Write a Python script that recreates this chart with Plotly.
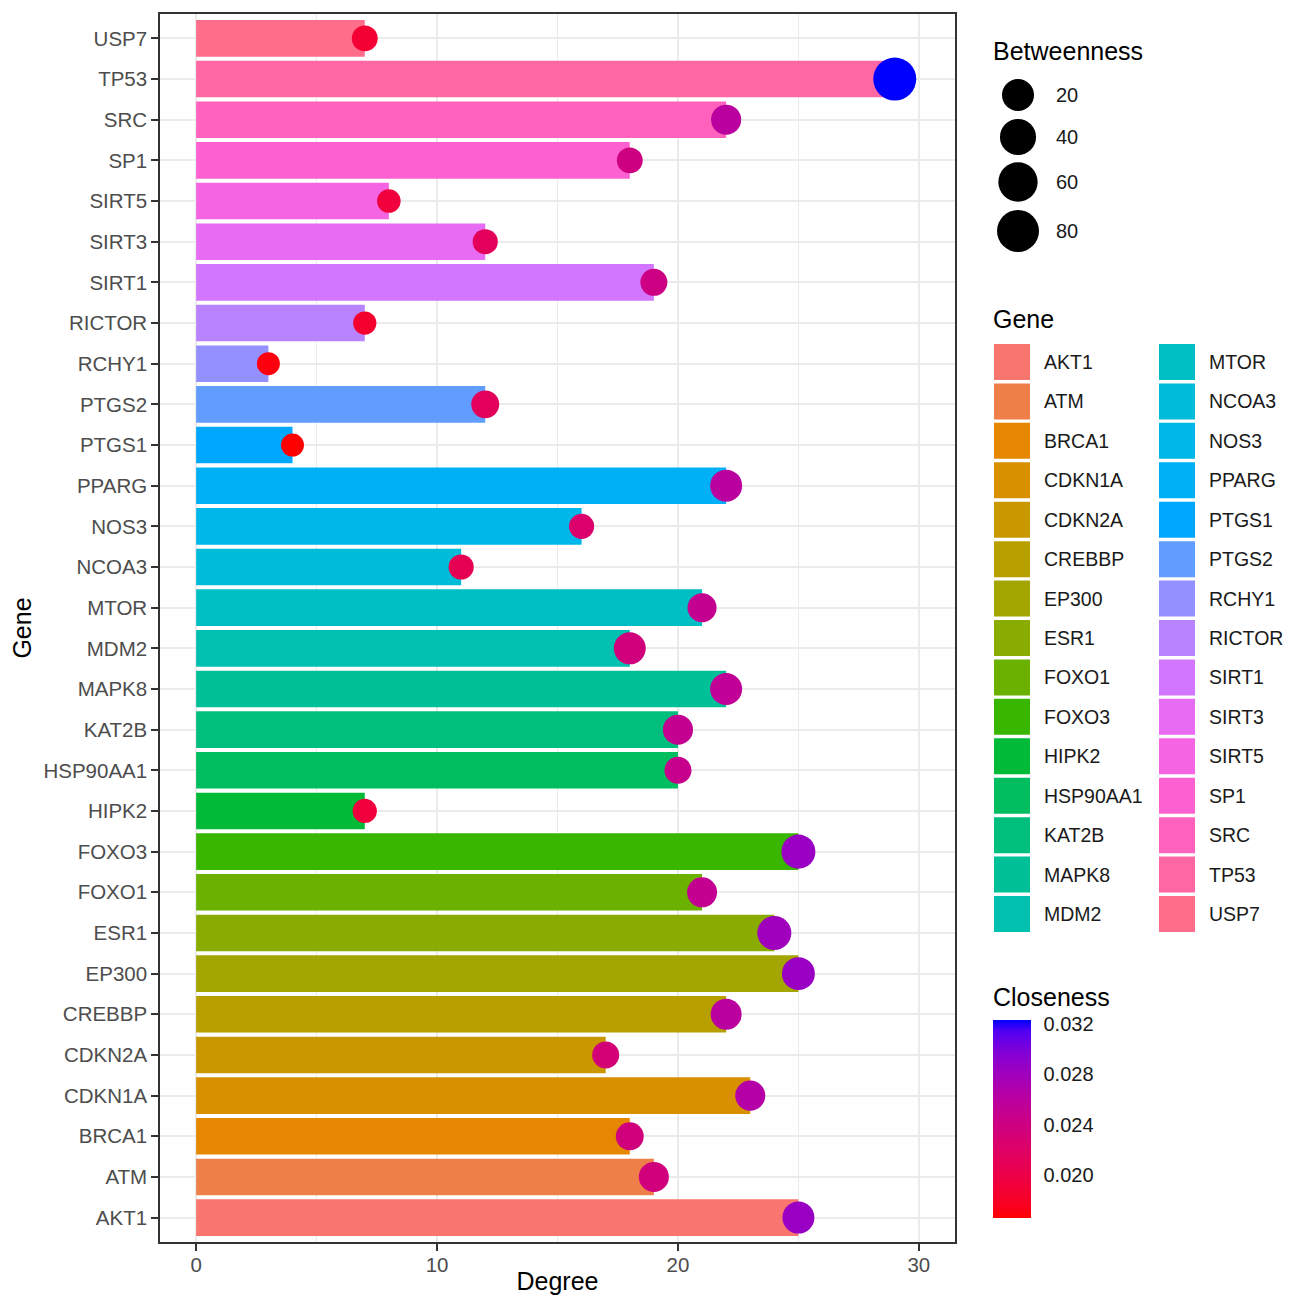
import numpy as np
import plotly.graph_objects as go

# ---------------- data ----------------
genes = ["AKT1", "ATM", "BRCA1", "CDKN1A", "CDKN2A", "CREBBP", "EP300", "ESR1",
         "FOXO1", "FOXO3", "HIPK2", "HSP90AA1", "KAT2B", "MAPK8", "MDM2", "MTOR",
         "NCOA3", "NOS3", "PPARG", "PTGS1", "PTGS2", "RCHY1", "RICTOR", "SIRT1",
         "SIRT3", "SIRT5", "SP1", "SRC", "TP53", "USP7"]
degree = [25, 19, 18, 23, 17, 22, 25, 24, 21, 25, 7, 20, 20, 22, 18, 21,
          11, 16, 22, 4, 12, 3, 7, 19, 12, 8, 18, 22, 29, 7]
betweenness = [20, 13, 7, 13, 5, 16, 24, 29, 13, 29, 1, 5, 13, 20, 20, 10,
               2, 2, 20, 0.2, 7, 0.2, 0.3, 5, 2, 0.5, 3, 13, 88, 3]
closeness = [0.0284, 0.0237, 0.0237, 0.0265, 0.0232, 0.0260, 0.0284, 0.0280,
             0.0250, 0.0284, 0.0193, 0.0248, 0.0250, 0.0254, 0.0237, 0.0250,
             0.0208, 0.0224, 0.0260, 0.0166, 0.0213, 0.0170, 0.0185, 0.0241,
             0.0213, 0.0193, 0.0240, 0.0260, 0.0323, 0.0188]
size_breaks = [20, 40, 60, 80]
closeness_ticks = [0.020, 0.024, 0.028, 0.032]
x_ticks = [0, 10, 20, 30]

# ---------------- colour helpers ----------------
XN, YN, ZN = 95.047, 100.0, 108.883

def _gam(t):
    return 12.92 * t if t <= 0.0031308 else 1.055 * t ** (1 / 2.4) - 0.055

def _ungam(t):
    return t / 12.92 if t <= 0.04045 else ((t + 0.055) / 1.055) ** 2.4

def xyz_to_hex(X, Y, Z):
    r = 3.240479 * X - 1.537150 * Y - 0.498535 * Z
    g = -0.969256 * X + 1.875992 * Y + 0.041556 * Z
    b = 0.055648 * X - 0.204043 * Y + 1.057311 * Z
    rgb = [min(1.0, max(0.0, _gam(t))) for t in (r, g, b)]
    return "#%02X%02X%02X" % tuple(int(round(255 * t)) for t in rgb)

def hcl_hex(h, c=100, l=65):
    un = 4 * XN / (XN + 15 * YN + 3 * ZN)
    vn = 9 * YN / (XN + 15 * YN + 3 * ZN)
    hr = np.radians(h)
    U, V = c * np.cos(hr), c * np.sin(hr)
    Y = YN * ((l + 16) / 116) ** 3
    u = U / (13 * l) + un
    v = V / (13 * l) + vn
    X = 9.0 * Y * u / (4 * v)
    Z = -X / 3 - 5 * Y + 3 * Y / v
    return xyz_to_hex(X / 100, Y / 100, Z / 100)

def hex_to_lab(hx):
    r, g, b = [_ungam(int(hx[i:i + 2], 16) / 255) for i in (1, 3, 5)]
    X = (0.412453 * r + 0.357580 * g + 0.180423 * b) / (XN / 100)
    Y = (0.212671 * r + 0.715160 * g + 0.072169 * b)
    Z = (0.019334 * r + 0.119193 * g + 0.950227 * b) / (ZN / 100)
    f = lambda t: t ** (1 / 3) if t > 0.008856 else 7.787 * t + 16 / 116
    fx, fy, fz = f(X), f(Y), f(Z)
    return 116 * fy - 16, 500 * (fx - fy), 200 * (fy - fz)

def lab_to_hex(L, a, b):
    fy = (L + 16) / 116
    fx = fy + a / 500
    fz = fy - b / 200
    finv = lambda t: t ** 3 if t ** 3 > 0.008856 else (t - 16 / 116) / 7.787
    return xyz_to_hex(finv(fx) * XN / 100, finv(fy), finv(fz) * ZN / 100)

n = len(genes)
hues = [15 + 360 / n * i for i in range(n)]
gene_colors = [hcl_hex(h) for h in hues]

lab_lo, lab_hi = hex_to_lab("#FF0000"), hex_to_lab("#0000FF")
colorscale = []
for t in np.linspace(0, 1, 21):
    L = lab_lo[0] + (lab_hi[0] - lab_lo[0]) * t
    A = lab_lo[1] + (lab_hi[1] - lab_lo[1]) * t
    B = lab_lo[2] + (lab_hi[2] - lab_lo[2]) * t
    colorscale.append([float(t), lab_to_hex(L, A, B)])

def size_scale(v):
    return 22 + 10 * np.sqrt(np.asarray(v, dtype=float) / 20)

# ---------------- layout geometry (page has an 8px body margin) ----------------
OFF = 8
def P(v):  # reference-pixel position -> figure pixel position
    return v - OFF

FONT = "Liberation Sans, Arial, sans-serif"
W, H = 1293 - 2 * OFF, 1303 - 2 * OFF
ML, MT = P(160), P(14)
MB = H - P(1242)
MR = 0
PW = W - ML - MR
PH = H - MT - MB
main_right = P(955)

fig = go.Figure()

fig.add_trace(go.Bar(
    x=degree, y=genes, orientation="h", width=0.9,
    marker=dict(color=gene_colors, line=dict(width=0)),
    showlegend=False, xaxis="x", yaxis="y",
))

fig.add_trace(go.Scatter(
    x=degree, y=genes, mode="markers",
    marker=dict(size=size_scale(betweenness), color=closeness, coloraxis="coloraxis",
                opacity=1, line=dict(width=0)),
    showlegend=False, xaxis="x", yaxis="y",
))

# --- legend keys drawn on an auxiliary pixel-like axis ---
aux_left = P(960)
annotations = []
shapes = []

# Betweenness size keys
size_y = [P(95), P(137), P(182), P(231)]
fig.add_trace(go.Scatter(
    x=[P(1018)] * len(size_breaks), y=size_y, mode="markers",
    marker=dict(size=size_scale(size_breaks), color="#000000", opacity=1,
                line=dict(width=0)),
    showlegend=False, xaxis="x2", yaxis="y2", hoverinfo="skip", cliponaxis=False,
))
for v, yy in zip(size_breaks, size_y):
    annotations.append(dict(x=P(1054), y=yy, xref="x2", yref="y2", text=str(v),
                            showarrow=False, xanchor="left", yanchor="middle",
                            font=dict(family=FONT, size=20, color="#1A1A1A")))

# Gene colour keys (two columns, 15 rows)
rows = 15
gx = [P(1012) + 165 * (i // rows) for i in range(n)]
gy = [P(362) + 39.43 * (i % rows) for i in range(n)]
fig.add_trace(go.Scatter(
    x=gx, y=gy, mode="markers",
    marker=dict(symbol="square", size=36, color=gene_colors, opacity=1,
                line=dict(width=0)),
    showlegend=False, xaxis="x2", yaxis="y2", hoverinfo="skip", cliponaxis=False,
))
for i, g in enumerate(genes):
    annotations.append(dict(x=gx[i] + 30, y=gy[i], xref="x2", yref="y2", text=g,
                            showarrow=False, xanchor="left", yanchor="middle",
                            font=dict(family=FONT, size=19.5, color="#1A1A1A")))
for title, ty in [("Betweenness", 51), ("Gene", 319), ("Closeness", 997)]:
    annotations.append(dict(x=P(991), y=P(ty), xref="x2", yref="y2", text=title,
                            showarrow=False, xanchor="left", yanchor="middle",
                            font=dict(family=FONT, size=25, color="black")))

# colourbar geometry and its white inner tick dashes
cb_left, cb_w = P(993), 38
cb_top, cb_bot = P(1020), P(1218)
cmin, cmax = min(closeness), max(closeness)
for v in closeness_ticks:
    yy = cb_bot - (v - cmin) / (cmax - cmin) * (cb_bot - cb_top)
    for x0, x1 in [(cb_left, cb_left + 7), (cb_left + cb_w - 7, cb_left + cb_w)]:
        shapes.append(dict(type="line", xref="x2", yref="y2", x0=x0, x1=x1, y0=yy, y1=yy,
                           line=dict(color="white", width=1.3), layer="above"))

axis_common = dict(
    showline=True, linecolor="#333333", linewidth=1.5, mirror=True,
    ticks="outside", ticklen=7, tickwidth=1.5, tickcolor="#333333",
    tickfont=dict(family=FONT, size=20.5, color="#4D4D4D"),
    showgrid=True, gridcolor="#EBEBEB", gridwidth=2, zeroline=False,
)

fig.update_layout(
    width=W, height=H,
    margin=dict(l=ML, r=MR, t=MT, b=MB, autoexpand=False),
    paper_bgcolor="white", plot_bgcolor="white",
    font=dict(family=FONT),
    xaxis=dict(
        domain=[0, (main_right - ML) / PW], range=[-1.5, 31.5],
        tickvals=x_ticks, ticktext=[str(v) for v in x_ticks],
        minor=dict(dtick=5, tick0=0, showgrid=True, gridcolor="#EBEBEB", gridwidth=1.2, ticks=""),
        title=dict(text="Degree", font=dict(family=FONT, size=25, color="black"), standoff=2),
        anchor="y", **axis_common,
    ),
    yaxis=dict(
        type="category", categoryorder="array", categoryarray=genes,
        range=[-0.6, n - 0.4],
        title=dict(text="Gene", font=dict(family=FONT, size=25, color="black"), standoff=6),
        anchor="x", **axis_common,
    ),
    xaxis2=dict(domain=[(aux_left - ML) / PW, 1], range=[aux_left, W],
                visible=False, fixedrange=True, anchor="y2"),
    yaxis2=dict(domain=[0, 1], range=[H - MB, MT], visible=False,
                fixedrange=True, anchor="x2"),
    coloraxis=dict(
        colorscale=colorscale, cmin=cmin, cmax=cmax,
        colorbar=dict(
            x=(cb_left - ML) / PW, xanchor="left", xpad=0, ypad=0,
            y=(H - MB - (cb_top + cb_bot) / 2) / PH, yanchor="middle",
            len=cb_bot - cb_top, lenmode="pixels", thickness=cb_w, thicknessmode="pixels",
            outlinewidth=0, ticks="outside", ticklen=9, tickwidth=1,
            tickcolor="rgba(255,255,255,0)",
            tickvals=closeness_ticks, ticktext=["%.3f" % v for v in closeness_ticks],
            tickfont=dict(family=FONT, size=20, color="#1A1A1A"),
        ),
    ),
    annotations=annotations,
    shapes=shapes,
)
fig.update_xaxes(ticklabelstandoff=-3, selector=dict(anchor="y"))

fig.write_html("out.html")
